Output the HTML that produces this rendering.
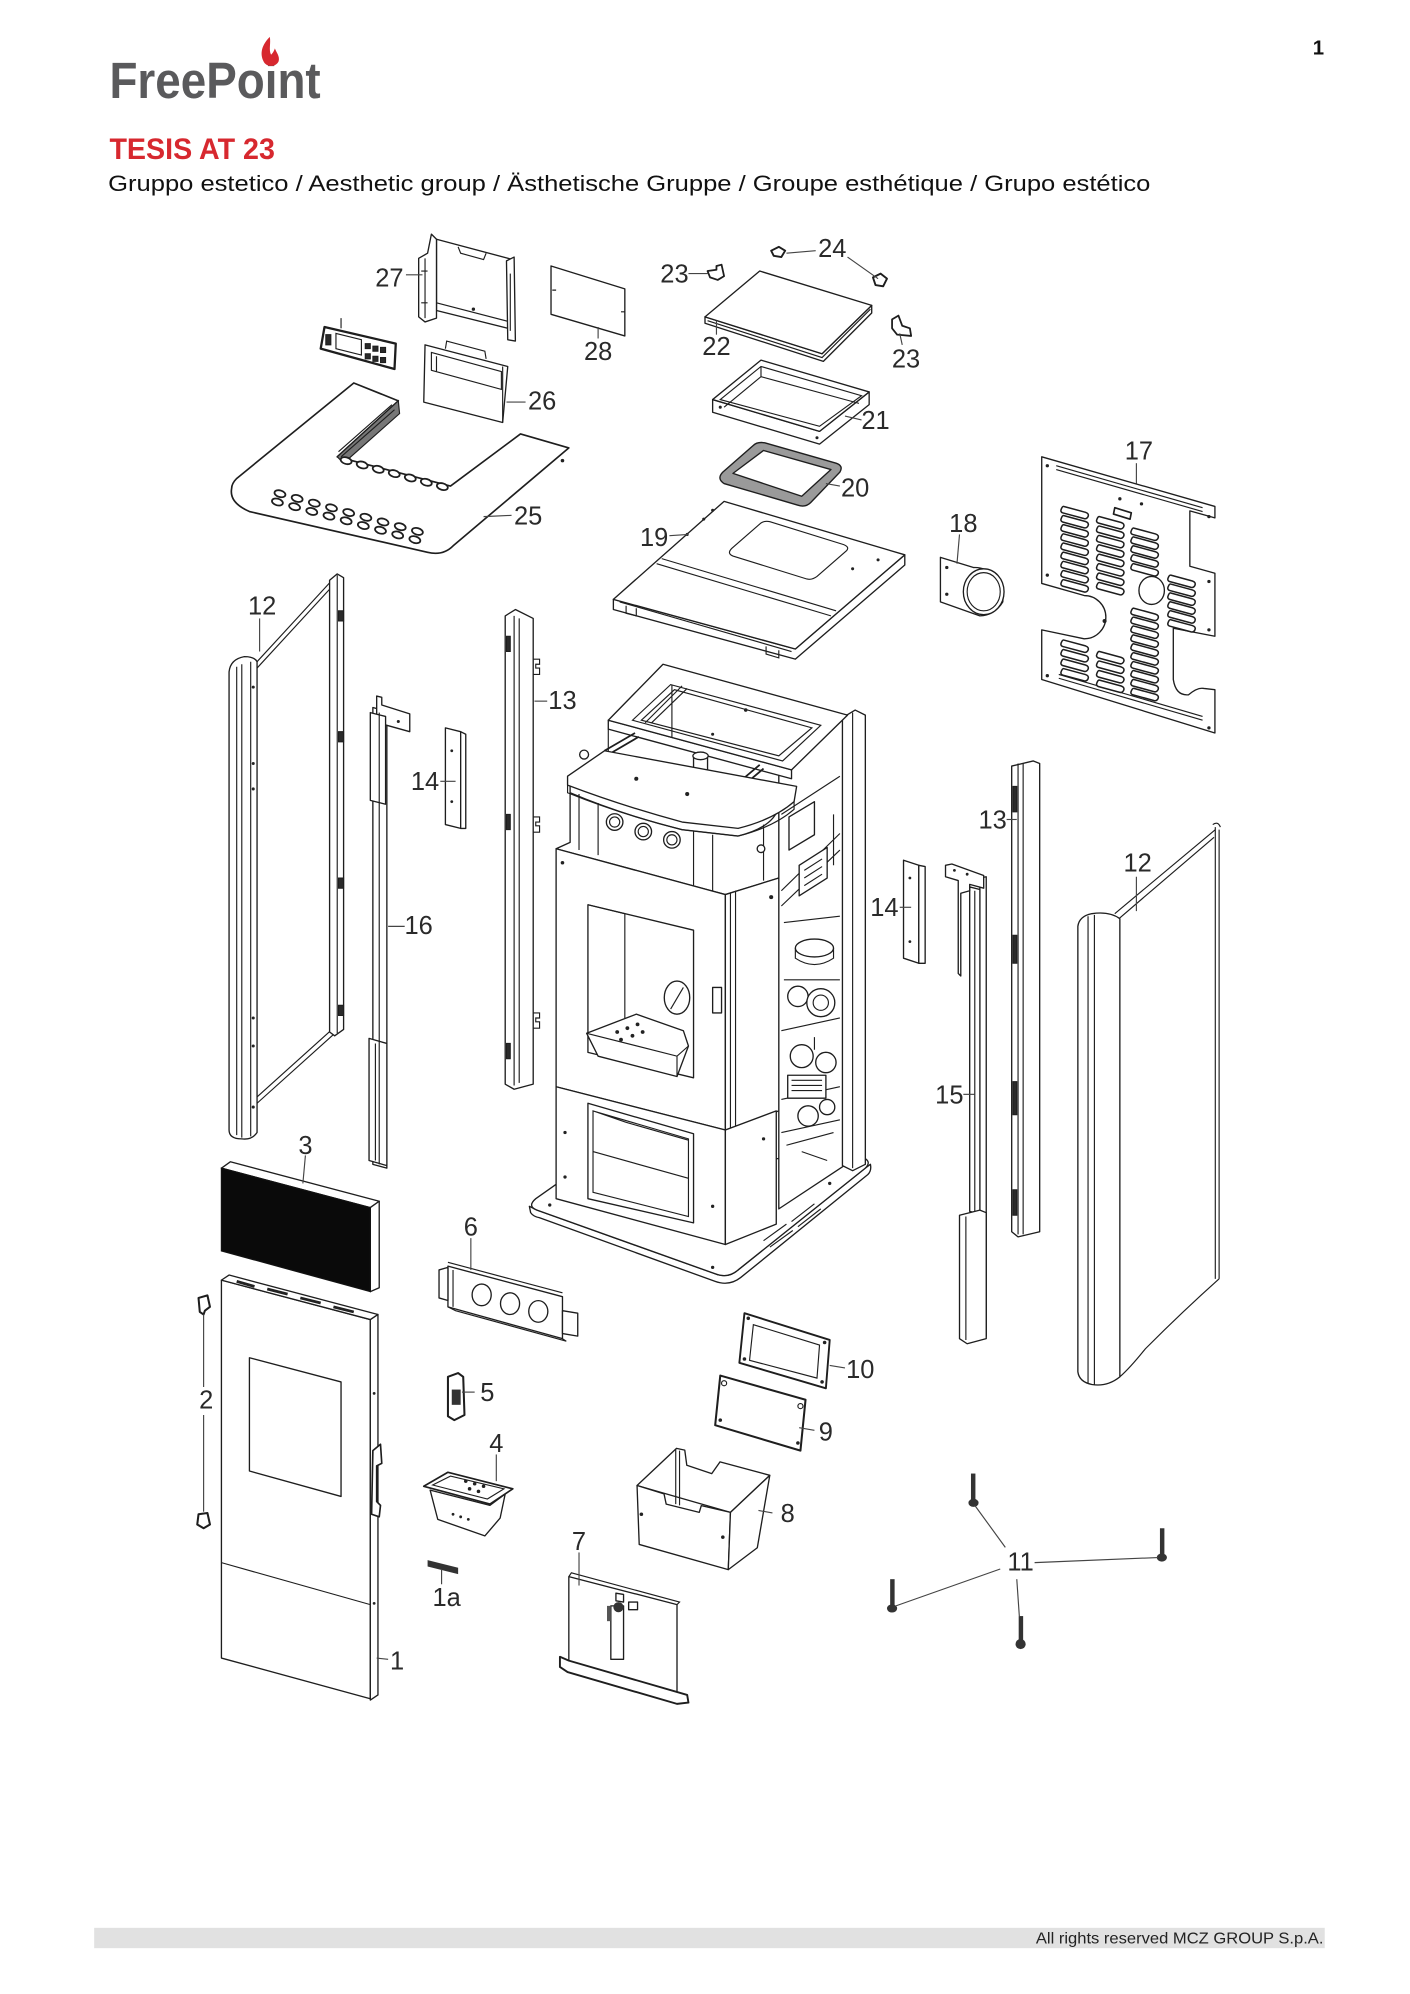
<!DOCTYPE html>
<html><head><meta charset="utf-8"><style>
html,body{margin:0;padding:0;background:#fff;}
svg{display:block;}
.p{fill:#fff;stroke:#1e1e1e;stroke-width:1.05;stroke-linejoin:round}
.l{fill:none;stroke:#1e1e1e;stroke-width:0.9}
.t{fill:none;stroke:#444;stroke-width:0.9}
.d{fill:#2a2a2a;stroke:#1e1e1e;stroke-width:0.8}
.n{font-family:"Liberation Sans",sans-serif;font-size:20px;fill:#2a2a2a;text-anchor:middle}
</style></head><body>
<svg width="1410" height="1994" viewBox="0 0 1108 1567" preserveAspectRatio="none" xmlns="http://www.w3.org/2000/svg" xmlns:xlink="http://www.w3.org/1999/xlink">
<defs>
<ellipse id="ov" cx="0" cy="0" rx="4.4" ry="2.6" transform="rotate(16)" style="fill:#fff;stroke:#1e1e1e;stroke-width:1.4"/>
<path id="sl" d="M0,0 L17,4.6 Q20,5.6 19,8 Q18,10 16,9.6 L-1,5 Q-3,4.2 -2,2 Q-1,-0.4 0,0 Z" style="fill:#fff;stroke:#1e1e1e;stroke-width:1.2"/>
</defs>

<!-- HEADER -->
<text x="86" y="77" font-family="Liberation Sans, sans-serif" font-weight="bold" font-size="40" fill="#5a5a5c" textLength="166" lengthAdjust="spacingAndGlyphs">FreePoint</text>
<path d="M212,29 C204,37 205,44 207,48 C209,53 217,53 219,48 C220,44 217,41 216,38 C215,41 214,42 213,43 C211,39 213,34 212,29 Z" fill="#d7282f"/>
<text x="1036" y="43" font-family="Liberation Sans, sans-serif" font-weight="bold" font-size="16" fill="#111" text-anchor="middle">1</text>
<text x="86" y="125" font-family="Liberation Sans, sans-serif" font-weight="bold" font-size="23.5" fill="#d7282f" textLength="130" lengthAdjust="spacingAndGlyphs">TESIS AT 23</text>
<text x="85" y="150" font-family="Liberation Sans, sans-serif" font-size="17.5" fill="#111" textLength="819" lengthAdjust="spacingAndGlyphs">Gruppo estetico / Aesthetic group / Ästhetische Gruppe / Groupe esthétique / Grupo estético</text>

<!-- FOOTER -->
<rect x="74" y="1515" width="967" height="16" fill="#e1e1e1"/>
<text x="1040" y="1527.5" font-family="Liberation Sans, sans-serif" font-size="12.5" fill="#222" text-anchor="end" textLength="226" lengthAdjust="spacingAndGlyphs">All rights reserved MCZ GROUP S.p.A.</text>

<!-- PART 27 -->
<path class="p" d="M343,188 L403,204 L403,259 L343,244 Z"/>
<path class="l" d="M343,238 L401,253 M360,194 L362,199 L380,204 L382,199"/>
<circle cx="372" cy="243" r="1.3" fill="#222"/>
<path class="p" d="M329,203 L336,199 L339,184 L343,188 L343,250 L334,253 L329,249 Z"/>
<path class="l" d="M334,203 L334,250 M331,213 L336,213 M331,238 L336,238"/>
<path class="p" d="M398,205 L404,202 L405,268 L399,267 Z"/>
<path class="l" d="M401,215 L401,260"/>

<!-- PART 28 -->
<path class="p" d="M433,209 L491,227 L491,264 L433,247 Z"/>
<path class="l" d="M434,228 L437,228 M488,245 L491,245"/>

<!-- CONTROL PANEL -->
<path class="p" d="M255,257 L311,270 L310,290 L252,274 Z" style="stroke-width:1.8"/>
<path class="l" d="M264,262 L284,267 L284,279 L264,274 Z"/>
<path class="d" d="M287,270 h4 v4 h-4 z M293,272 h4 v4 h-4 z M299,273 h4 v4 h-4 z M287,278 h4 v4 h-4 z M293,280 h4 v4 h-4 z M299,281 h4 v4 h-4 z M256,263 h4 v8 h-4 z"/>
<path class="l" d="M268,250 L268,258"/>

<!-- PART 26 -->
<path class="p" d="M334,271 L399,288 L395,332 L333,316 Z"/>
<path class="l" d="M350,274 L351,268 L381,276 L382,282 M339,277 L394,292 L394,306 L339,291 Z M343,280 L343,292 M395,288 L395,332"/>

<!-- PART 25 -->
<path class="p" d="M182,384 Q180,395 196,402 L336,434 Q348,437 356,429 L447,352 L409,341 L354,382 L265,359 L313,315 L278,301 L186,376 Q182,380 182,384 Z" style="stroke-width:1.3"/>
<path d="M313,315 L314,325 L270,364 L265,359 Z" fill="#777" stroke="#1e1e1e" stroke-width="0.9"/>
<path class="l" d="M308,318 L266,355 M310,322 L268,359"/>
<circle cx="442" cy="362" r="1.4" fill="#222"/>
<use xlink:href="#ov" x="272" y="362"/><use xlink:href="#ov" x="284.6" y="365.4"/><use xlink:href="#ov" x="297.2" y="368.8"/><use xlink:href="#ov" x="309.8" y="372.2"/><use xlink:href="#ov" x="322.4" y="375.6"/><use xlink:href="#ov" x="335" y="379"/><use xlink:href="#ov" x="347.6" y="382.4"/>
<use xlink:href="#ov" x="220" y="388"/><use xlink:href="#ov" x="233.5" y="391.7"/><use xlink:href="#ov" x="247" y="395.4"/><use xlink:href="#ov" x="260.5" y="399.1"/><use xlink:href="#ov" x="274" y="402.8"/><use xlink:href="#ov" x="287.5" y="406.5"/><use xlink:href="#ov" x="301" y="410.2"/><use xlink:href="#ov" x="314.5" y="413.9"/><use xlink:href="#ov" x="328" y="417.6"/>
<use xlink:href="#ov" x="218" y="394.5"/><use xlink:href="#ov" x="231.5" y="398.2"/><use xlink:href="#ov" x="245" y="401.9"/><use xlink:href="#ov" x="258.5" y="405.6"/><use xlink:href="#ov" x="272" y="409.3"/><use xlink:href="#ov" x="285.5" y="413"/><use xlink:href="#ov" x="299" y="416.7"/><use xlink:href="#ov" x="312.5" y="420.4"/><use xlink:href="#ov" x="326" y="424.1"/>

<!-- PART 22, 23, 24 -->
<path class="p" d="M554,249 L646,278 L685,240 L685,246 L647,284 L554,254 Z"/>
<path class="p" d="M597,213 L685,240 L646,278 L554,249 Z"/>
<path class="l" d="M556,252 L646,281 L684,243"/>
<path class="p" style="stroke-width:1.4" d="M556,213 L563,212 L563,209 L567,208 L569,217 L564,220 L558,218 Z"/>
<path class="p" style="stroke-width:1.5" d="M606,197 L612,194 L617,197 L614,202 L608,201 Z"/>
<path class="p" style="stroke-width:1.5" d="M686,218 L692,215 L697,219 L694,225 L688,224 Z"/>
<path class="p" style="stroke-width:1.4" d="M701,251 L706,248 L709,256 L715,258 L716,264 L705,263 L701,258 Z"/>

<!-- PART 21 -->
<path class="p" d="M560,314 L644,339 L683,308 L683,318 L644,349 L560,324 Z"/>
<path class="p" d="M560,314 L598,283 L683,308 L644,339 Z"/>
<path class="l" d="M566,314 L598,288 L677,311 L644,335 Z M598,288 L598,296 L569,320 M598,296 L675,317"/>
<circle cx="566" cy="320" r="1.2" fill="#222"/><circle cx="642" cy="344" r="1.2" fill="#222"/>

<!-- PART 20 -->
<path d="M568,371 Q563,376 569,380 L627,397 Q633,399 637,395 L660,371 Q663,366 657,364 L601,348 Q595,347 592,350 Z" fill="#9a9a9a" stroke="#1e1e1e" stroke-width="1.1"/>
<path class="p" d="M576,372 L600,354 L653,369 L630,390 Z"/>

<!-- PART 19 -->
<path class="p" d="M482,471 L625,510 L711,436 L711,444 L625,518 L482,479 Z"/>
<path class="p" d="M569,394 L711,436 L625,510 L482,471 Z"/>
<path class="l" d="M520,439 L657,480 M516,443 L653,484 M487,473 L622,512"/>
<path class="l" d="M598,411 Q601,409 605,410 L663,428 Q668,430 665,433 L642,453 Q638,456 634,455 L576,437 Q571,435 575,431 Z"/>
<path class="l" d="M492,476 L492,482 L500,484 L500,478 M602,508 L602,514 L612,517 L612,511"/>
<circle cx="553" cy="408" r="1.2" fill="#222"/><circle cx="560" cy="401" r="1.2" fill="#222"/><circle cx="540" cy="420" r="1.2" fill="#222"/><circle cx="670" cy="447" r="1.2" fill="#222"/><circle cx="690" cy="440" r="1.2" fill="#222"/>

<!-- PART 18 -->
<path class="p" d="M739,438 L765,446 A22,24 0 0 1 788,473 A22,24 0 0 1 770,484 L739,473 Z"/>
<ellipse class="p" cx="773" cy="465" rx="16" ry="18"/>
<ellipse class="l" cx="773" cy="465" rx="13" ry="15"/>
<circle cx="744" cy="446" r="1.3" fill="#222"/><circle cx="744" cy="467" r="1.3" fill="#222"/>

<!-- PART 17 -->
<path class="p" d="M818.6,359 L954.7,398 L954.7,407 L935,401.5 L935,445 L954.7,450.5 L954.7,500 L922,493.7 L922,534 Q924,547 934,546 Q941,540 946,541 L954.7,542 L954.7,576 L818.6,534 L818.6,495 L852,502 A17,17 0 0 0 852,468 L818.6,458.5 Z"/>
<path class="l" d="M830,366 L945,399 M830,369 L945,402 M832,530 L945,563 M832,533 L945,566"/>
<path d="M876,399 L889,403 L888,408 L875,404 Z" class="p" style="stroke-width:1.3"/>
<circle cx="823" cy="366" r="1.3" fill="#222"/><circle cx="950" cy="406" r="1.3" fill="#222"/><circle cx="950" cy="572" r="1.3" fill="#222"/><circle cx="823" cy="531" r="1.3" fill="#222"/><circle cx="823" cy="452" r="1.3" fill="#222"/><circle cx="950" cy="457" r="1.3" fill="#222"/><circle cx="950" cy="495" r="1.3" fill="#222"/><circle cx="880" cy="392" r="1.3" fill="#222"/><circle cx="897" cy="396" r="1.3" fill="#222"/><circle cx="868" cy="488" r="1.6" fill="#222"/>
<ellipse class="p" cx="905" cy="464" rx="10" ry="11"/>
<use xlink:href="#sl" x="836" y="398"/><use xlink:href="#sl" x="836" y="405.2"/><use xlink:href="#sl" x="836" y="412.4"/><use xlink:href="#sl" x="836" y="419.6"/><use xlink:href="#sl" x="836" y="426.8"/><use xlink:href="#sl" x="836" y="434"/><use xlink:href="#sl" x="836" y="441.2"/><use xlink:href="#sl" x="836" y="448.4"/><use xlink:href="#sl" x="836" y="455.6"/>
<use xlink:href="#sl" x="864" y="406"/><use xlink:href="#sl" x="864" y="413.4"/><use xlink:href="#sl" x="864" y="420.8"/><use xlink:href="#sl" x="864" y="428.2"/><use xlink:href="#sl" x="864" y="435.6"/><use xlink:href="#sl" x="864" y="443"/><use xlink:href="#sl" x="864" y="450.4"/><use xlink:href="#sl" x="864" y="457.8"/>
<use xlink:href="#sl" x="891" y="415"/><use xlink:href="#sl" x="891" y="422"/><use xlink:href="#sl" x="891" y="429"/><use xlink:href="#sl" x="891" y="436"/><use xlink:href="#sl" x="891" y="443"/>
<use xlink:href="#sl" x="920" y="452"/><use xlink:href="#sl" x="920" y="459"/><use xlink:href="#sl" x="920" y="466"/><use xlink:href="#sl" x="920" y="473"/><use xlink:href="#sl" x="920" y="480"/><use xlink:href="#sl" x="920" y="487"/>
<use xlink:href="#sl" x="891" y="478"/><use xlink:href="#sl" x="891" y="485"/><use xlink:href="#sl" x="891" y="492"/><use xlink:href="#sl" x="891" y="499"/><use xlink:href="#sl" x="891" y="506"/><use xlink:href="#sl" x="891" y="513"/><use xlink:href="#sl" x="891" y="520"/><use xlink:href="#sl" x="891" y="527"/><use xlink:href="#sl" x="891" y="534"/><use xlink:href="#sl" x="891" y="541"/>
<use xlink:href="#sl" x="836" y="503"/><use xlink:href="#sl" x="836" y="510.5"/><use xlink:href="#sl" x="836" y="518"/><use xlink:href="#sl" x="836" y="525.5"/>
<use xlink:href="#sl" x="864" y="512"/><use xlink:href="#sl" x="864" y="519.5"/><use xlink:href="#sl" x="864" y="527"/><use xlink:href="#sl" x="864" y="534.5"/>

<!-- PART 12 LEFT -->
<path class="l" d="M202,520 L260,457 M202,525 L260,462 M202,862 L262,808 M202,867 L262,813"/>
<path class="p" d="M259,456 L265,451 L270,454 L270,809 L263,814 L259,811 Z"/>
<path class="l" d="M265,452 L265,812"/>
<path class="d" d="M266,480 h4 v8 h-4 z M266,575 h4 v8 h-4 z M266,690 h4 v8 h-4 z M266,790 h4 v8 h-4 z"/>
<path class="p" d="M180,528 Q181,518 192,516 Q200,516 202,520 L202,890 Q198,896 190,895 Q180,895 180,888 Z"/>
<path class="l" d="M186,524 L186,892 M190,522 L190,894 M197,520 L197,893"/>
<circle cx="199" cy="540" r="1.2" fill="#222"/><circle cx="199" cy="600" r="1.2" fill="#222"/><circle cx="199" cy="620" r="1.2" fill="#222"/><circle cx="199" cy="800" r="1.2" fill="#222"/><circle cx="199" cy="822" r="1.2" fill="#222"/><circle cx="199" cy="870" r="1.2" fill="#222"/>

<!-- PART 16 -->
<path class="p" d="M293,556 L304,559 L304,918 L293,915 Z"/>
<path class="p" d="M296,547 L300,548 L300,554 L322,561 L322,575 L304,570 L296,568 Z"/>
<path class="p" d="M291,560 L303,563 L303,632 L291,629 Z"/>
<path class="p" d="M290,816 L304,820 L304,916 L290,912 Z"/>
<path class="l" d="M298,560 L298,915 M295,820 L295,912"/>
<circle cx="313" cy="567" r="1.2" fill="#222"/>

<!-- PART 14 LEFT -->
<path class="p" d="M350,572 L362,575 L362,651 L350,648 Z"/>
<path class="p" d="M362,575 L366,577 L366,651 L362,651 Z"/>
<circle cx="355" cy="590" r="1.1" fill="#222"/><circle cx="355" cy="630" r="1.1" fill="#222"/>

<!-- PART 13 LEFT -->
<path class="p" d="M397,484 L405,479 L419,486 L419,852 L404,856 L397,852 Z"/>
<path class="l" d="M404,484 L404,853 M408,486 L408,851"/>
<path class="l" d="M419,518 L424,518 L424,522 L421,522 L421,525 L424,525 L424,530 L419,530 M419,642 L424,642 L424,646 L421,646 L421,649 L424,649 L424,654 L419,654 M419,796 L424,796 L424,800 L421,800 L421,803 L424,803 L424,808 L419,808"/>
<path class="d" d="M398,500 h3 v12 h-3 z M398,640 h3 v12 h-3 z M398,820 h3 v12 h-3 z"/>

<!-- MAIN BODY: base plate -->
<path class="p" d="M416,948 L417,953 Q419,956 424,957 L562,1007 Q573,1011 582,1004 L682,923 Q685,920 684,915 L680,918 L580,998 Q572,1005 562,1001 L422,951 Z"/>
<path class="p" d="M438,930 L421,942 Q414,948 422,951 L562,1001 Q572,1005 580,998 L680,918 Q685,913 679,910 L660,905 Z"/>
<circle cx="432" cy="947" r="1.3" fill="#222"/><circle cx="560" cy="996" r="1.3" fill="#222"/><circle cx="652" cy="930" r="1.3" fill="#222"/>
<path class="l" d="M600,975 L618,962 M622,960 L640,946 M605,980 L623,967 M627,964 L645,950"/>

<!-- rear box right face + post -->
<path class="p" d="M612,606 L665,562 L665,915 L612,950 Z"/>
<path class="p" d="M662,564 L672,558 L680,562 L680,915 L670,920 L662,916 Z"/>
<path class="l" d="M670,560 L670,918"/>
<!-- top frame -->
<path class="p" d="M478,566 L622,605 L622,612 L478,573 Z"/>
<path class="p" d="M478,566 L521,522 L666,562 L622,605 Z"/>
<path class="l" d="M497,566 L527,538 L645,570 L615,598 Z M504,566 L530,542 L638,572 L612,594 Z"/>
<path class="l" d="M507,568 L536,539 M512,568 L540,541 M528,538 L528,580 M478,573 L478,615"/>
<circle cx="586" cy="558" r="1.4" fill="#222"/><circle cx="560" cy="577" r="1.2" fill="#222"/>
<!-- internals -->
<path class="l" d="M614,700 L660,655 M614,712 L660,668 M614,640 L660,610"/>
<path class="p" d="M620,642 L640,630 L640,656 L620,668 Z"/>
<path class="p" d="M628,680 L650,666 L650,690 L628,704 Z"/>
<path class="l" d="M632,684 L646,675 M632,690 L646,681 M632,696 L646,687"/>
<path class="l" d="M625,745 L625,753 Q640,763 655,753 L655,745"/>
<ellipse class="p" cx="640" cy="745" rx="15" ry="7"/>
<circle class="p" cx="627" cy="783" r="8"/>
<circle class="p" cx="645" cy="788" r="11"/><circle class="l" cx="645" cy="788" r="6"/>
<path class="l" d="M614,810 L660,800 M614,864 L660,854"/>
<circle class="p" cx="630" cy="830" r="9"/><circle class="p" cx="649" cy="835" r="8"/>
<rect class="p" x="619" y="845" width="30" height="18"/>
<path class="l" d="M622,849 L646,849 M622,853 L646,853 M622,857 L646,857"/>
<circle class="p" cx="635" cy="877" r="8"/><circle class="p" cx="650" cy="870" r="6"/>
<path class="l" d="M614,890 L660,880 M618,900 L655,890 M630,905 L650,912 M640,815 L640,825"/>
<path class="l" d="M655,640 L655,680 M616,770 L660,770 M616,725 L660,720"/>
<!-- rods and sensor on lid -->
<path class="l" d="M475,590 L499,576 M478,593 L502,579 M578,617 L597,601 M581,620 L600,604" style="stroke-width:1.4"/>
<circle class="p" cx="459" cy="593" r="3.5"/>
<rect class="p" x="545" y="594" width="11" height="12"/>
<ellipse class="p" cx="550.5" cy="594" rx="6" ry="3"/>
<circle class="p" cx="596" cy="628" r="3.5"/>

<!-- Front section: lid -->
<path class="p" d="M448,617 L448,662 L437,667 L570,703 L612,690 L612,634 Q608,650 580,657 L536,652 Q488,640 448,623 Z"/>
<path class="p" d="M446,610 L475,590 L626,618 L624,630 Q608,644 580,651 L536,646 Q488,633 446,617 Z"/>
<path class="l" d="M446,617 L446,623 Q488,640 536,652 L580,657 Q608,650 624,636 L624,630"/>
<path class="l" d="M455,624 L455,668 M470,631 L470,672 M545,653 L545,698 M560,656 L560,702 M600,648 L600,692"/>
<circle class="p" cx="483" cy="646" r="6.5"/><circle class="l" cx="483" cy="646" r="4"/>
<circle class="p" cx="505.5" cy="653.5" r="6.5"/><circle class="l" cx="505.5" cy="653.5" r="4"/>
<circle class="p" cx="528" cy="660" r="6.5"/><circle class="l" cx="528" cy="660" r="4"/>
<circle class="p" cx="598" cy="667" r="3"/>
<circle cx="500" cy="612" r="1.6" fill="#222"/><circle cx="540" cy="624" r="1.6" fill="#222"/>
<!-- front panel upper -->
<path class="p" d="M437,667 L570,703 L570,888 L437,854 Z"/>
<path class="p" d="M570,703 L612,690 L612,873 L570,888 Z"/>
<path class="l" d="M574,702 L574,887 M578,700 L578,886"/>
<path class="p" d="M462,711 L545,731 L545,847 L462,827 Z"/>
<path class="l" d="M491,718 L491,800 M462,711 L491,718"/>
<ellipse class="p" cx="532" cy="784" rx="10" ry="13"/>
<path class="l" d="M527,793 L537,776"/>
<rect class="p" x="560" y="776" width="7" height="20"/>
<path class="p" d="M461,812 L500,797 L537,810 L541,822 L532,846 L470,830 Z"/>
<path class="l" d="M461,812 L532,830 L541,822 M532,830 L532,846"/>
<circle cx="485" cy="811" r="1.5" fill="#222"/><circle cx="493" cy="808" r="1.5" fill="#222"/><circle cx="501" cy="805" r="1.5" fill="#222"/><circle cx="488" cy="817" r="1.5" fill="#222"/><circle cx="497" cy="814" r="1.5" fill="#222"/><circle cx="505" cy="811" r="1.5" fill="#222"/>
<circle cx="442" cy="678" r="1.4" fill="#222"/><circle cx="606" cy="705" r="1.6" fill="#222"/>
<!-- lower section -->
<path class="p" d="M437,854 L570,888 L570,978 L437,942 Z"/>
<path class="p" d="M570,888 L610,873 L610,962 L570,978 Z"/>
<path class="p" d="M462,867 L545,891 L545,961 L462,942 Z"/>
<path class="l" d="M466,873 L541,895 L541,956 L466,937 Z M466,905 L541,926 M492,882 L541,896 M466,873 L492,882"/>
<circle cx="444" cy="890" r="1.3" fill="#222"/><circle cx="444" cy="925" r="1.3" fill="#222"/><circle cx="560" cy="948" r="1.3" fill="#222"/><circle cx="600" cy="895" r="1.3" fill="#222"/>

<!-- PART 14 RIGHT -->
<path class="p" d="M710,676 L722,680 L722,757 L710,753 Z"/>
<path class="p" d="M722,680 L727,681 L727,757 L722,757 Z"/>
<circle cx="715" cy="690" r="1.1" fill="#222"/><circle cx="715" cy="740" r="1.1" fill="#222"/>

<!-- PART 15 -->
<path class="p" d="M770,690 L775,689 L775,1050 L770,1052 Z"/>
<path class="p" d="M762,697 L770,699 L770,954 L762,952 Z"/>
<path class="p" d="M743,680 L748,679 L773,688 L773,698 L762,695 L762,700 L755,702 L755,767 L753,765 L753,692 L743,689 Z"/>
<path class="p" d="M754,955 L770,951 L775,953 L775,1052 L760,1056 L754,1052 Z"/>
<path class="l" d="M759,956 L759,1053 M766,700 L766,952"/>
<circle cx="750" cy="684" r="1.1" fill="#222"/><circle cx="760" cy="687" r="1.1" fill="#222"/>

<!-- PART 13 RIGHT -->
<path class="p" d="M795,602 L812,598 L817,600 L817,968 L800,972 L795,968 Z"/>
<path class="l" d="M800,600 L800,970 M804,600 L804,970"/>
<path class="d" d="M796,618 h3 v20 h-3 z M796,735 h3 v22 h-3 z M796,850 h3 v26 h-3 z M796,935 h3 v20 h-3 z"/>

<!-- PART 12 RIGHT -->
<path class="l" d="M876,718 L955,652 M878,723 L954,658 M955,650 L955,1005 M958,652 L958,1005 M958,1005 Q930,1030 900,1060 Q888,1075 880,1082"/>
<path class="l" d="M953,648 Q957,645 959,650" />
<path class="p" d="M847,728 Q848,720 858,718 Q872,716 880,722 L880,1082 Q870,1090 858,1088 Q848,1086 847,1078 Z"/>
<path class="l" d="M855,720 L855,1087 M860,719 L860,1088"/>

<!-- PART 3 -->
<path class="p" d="M174,918 L181,913 L298,944 L291,949 Z"/>
<path class="p" d="M291,949 L298,944 L298,1012 L291,1015 Z"/>
<path d="M174,918 L291,949 L291,1015 L174,983 Z" fill="#0a0a0a" stroke="#111" stroke-width="1"/>

<!-- PART 1 DOOR -->
<path class="p" d="M174,1006 L291,1037 L291,1335 L174,1303 Z"/>
<path class="p" d="M291,1037 L297,1033 L297,1332 L291,1336 Z"/>
<path class="p" d="M174,1006 L180,1002 L297,1033 L291,1037 Z"/>
<path d="M186,1007 L200,1011 M210,1013 L226,1017 M236,1020 L252,1024 M262,1027 L278,1031" stroke="#222" stroke-width="2.2"/>
<path class="l" d="M174,1228 L291,1261"/>
<path class="p" d="M196,1067 L268,1086 L268,1176 L196,1156 Z"/>
<path class="p" d="M293,1140 L299,1135 L300,1150 L296,1152 L296,1180 L299,1183 L298,1192 L292,1190 Z" style="stroke-width:1.3"/>
<circle cx="294" cy="1095" r="1.1" fill="#222"/><circle cx="294" cy="1260" r="1.1" fill="#222"/>

<!-- PART 2 -->
<path class="p" style="stroke-width:1.6" d="M156,1020 L163,1018 L165,1027 L161,1030 L160,1033 L157,1031 Z"/>
<path class="t" d="M160,1033 L160,1090 M160,1112 L160,1188"/>
<path class="p" style="stroke-width:1.6" d="M156,1190 L163,1189 L165,1198 L160,1201 L155,1198 Z"/>

<!-- PART 6 -->
<path class="l" d="M352,992 L442,1016"/>
<path class="p" d="M352,995 L442,1019 L442,1052 L352,1027 Z"/>
<path class="l" d="M352,1027 L358,1030 L445,1054 L442,1052 M356,998 L356,1027"/>
<path class="p" d="M345,998 L352,996 L352,1022 L345,1020 Z"/>
<path class="p" d="M442,1030 L454,1032 L454,1050 L442,1048 Z"/>
<ellipse class="p" cx="378.5" cy="1017.6" rx="7.5" ry="8.5"/>
<ellipse class="p" cx="400.8" cy="1024.5" rx="7.5" ry="8.5"/>
<ellipse class="p" cx="423" cy="1030.6" rx="7.5" ry="8.5"/>

<!-- PART 5 -->
<path class="p" d="M352,1082 L360,1079 L364,1082 L365,1112 L357,1116 L352,1113 Z" style="stroke-width:1.6"/>
<rect x="355" y="1092" width="7" height="12" fill="#333"/>

<!-- PART 4 -->
<path class="p" d="M338,1171 L385,1183 L397,1174 L393,1193 L381,1207 L344,1194 Z"/>
<path class="p" d="M333,1168 L352,1157 L403,1170 L385,1182 Z" style="stroke-width:1.3"/>
<path class="l" d="M340,1167 L354,1160 L396,1170 L383,1178 Z"/>
<circle cx="366" cy="1164" r="1.4" fill="#222"/><circle cx="373" cy="1166" r="1.4" fill="#222"/><circle cx="380" cy="1168" r="1.4" fill="#222"/><circle cx="369" cy="1170" r="1.4" fill="#222"/><circle cx="376" cy="1172" r="1.4" fill="#222"/><circle cx="356" cy="1190" r="1.1" fill="#222"/><circle cx="362" cy="1192" r="1.1" fill="#222"/><circle cx="368" cy="1194" r="1.1" fill="#222"/>

<!-- PART 1a -->
<path d="M336,1226 L360,1232 L360,1237 L336,1231 Z" fill="#333"/>

<!-- PART 10 -->
<path class="p" d="M585,1032 L652,1053 L649,1091 L581,1071 Z" style="stroke-width:1.5"/>
<path class="l" d="M592,1041 L644,1057 L642,1083 L589,1069 Z"/>
<circle cx="588" cy="1036" r="1.4" fill="#222"/><circle cx="648" cy="1055" r="1.4" fill="#222"/><circle cx="646" cy="1086" r="1.4" fill="#222"/><circle cx="585" cy="1068" r="1.4" fill="#222"/>

<!-- PART 9 -->
<path class="p" d="M566,1081 L633,1100 L629,1140 L562,1120 Z" style="stroke-width:1.6"/>
<circle class="l" cx="569" cy="1087" r="2"/><circle class="l" cx="629" cy="1105" r="2"/><circle cx="566" cy="1116" r="1.4" fill="#222"/><circle cx="627" cy="1134" r="1.4" fill="#222"/>

<!-- PART 8 -->
<path class="p" d="M500.6,1167.4 L531.6,1138.2 L538.1,1139.6 L539.7,1151.5 L559.3,1158.1 L565.8,1148.8 L604.9,1159.4 L574,1188.5 Z"/>
<path class="l" d="M531,1139 L531,1182 M534,1140 L534,1183"/>
<path class="p" d="M500.6,1167.4 L521.8,1174 L523.5,1182 L549.5,1188.5 L551.1,1183.2 L574,1188.5 L572.3,1233.5 L502.3,1213.7 Z"/>
<path class="p" d="M574,1188.5 L604.9,1159.4 L595.1,1216.3 L572.3,1233.5 Z"/>
<circle cx="504" cy="1190" r="1.4" fill="#222"/><circle cx="568" cy="1208" r="1.4" fill="#222"/>

<!-- PART 7 -->
<path class="p" d="M447,1239 L532,1261 L532,1334 L447,1312 Z"/>
<path class="l" d="M447,1239 L449,1236 L534,1259 L532,1261"/>
<path class="p" d="M440,1302 L447,1305 L540,1332 L541,1338 L532,1339 L446,1314 L440,1310 Z" style="stroke-width:1.5"/>
<path class="p" d="M484,1252 L490,1253 L490,1259 L484,1258 Z"/>
<rect class="p" x="480" y="1262" width="10" height="42"/>
<circle cx="486" cy="1263" r="4" fill="#333"/>
<rect class="p" x="494" y="1259" width="7" height="6"/>
<rect x="477" y="1262" width="3" height="12" fill="#555"/>

<!-- PART 11 screws -->
<rect x="763" y="1158" width="3.5" height="21" fill="#333"/><ellipse cx="765" cy="1181" rx="4" ry="3.2" fill="#333"/>
<rect x="911.5" y="1201" width="3.5" height="21" fill="#333"/><ellipse cx="913" cy="1224" rx="4" ry="3.2" fill="#333"/>
<rect x="699.5" y="1241" width="3.5" height="21" fill="#333"/><ellipse cx="701" cy="1264" rx="4" ry="3.2" fill="#333"/>
<rect x="800.5" y="1270" width="3.5" height="19" fill="#333"/><ellipse cx="802" cy="1292" rx="4" ry="4" fill="#333"/>

<!-- LEADER LINES -->
<g class="t">
<path d="M319,216 L332,216"/>
<path d="M470,257 L470,266"/>
<path d="M541,215 L556,215"/>
<path d="M641,197 L618,199 M666,202 L690,219"/>
<path d="M563,252 L563,263"/>
<path d="M707,262 L709,271"/>
<path d="M398,316 L413,316"/>
<path d="M664,327 L677,330"/>
<path d="M649,380 L660,382"/>
<path d="M380,406 L402,405"/>
<path d="M893,364 L893,380"/>
<path d="M754,420 L752,443"/>
<path d="M526,421 L541,420"/>
<path d="M204,486 L204,512"/>
<path d="M420,551 L430,551"/>
<path d="M346,614 L358,614"/>
<path d="M305,728 L318,728"/>
<path d="M791,644 L799,644"/>
<path d="M893,689 L893,716"/>
<path d="M707,713 L716,713"/>
<path d="M757,860 L766,860"/>
<path d="M240,908 L238,930"/>
<path d="M370,973 L370,998"/>
<path d="M363,1094 L373,1094"/>
<path d="M390,1143 L390,1164"/>
<path d="M652,1073 L664,1075"/>
<path d="M628,1122 L640,1124"/>
<path d="M596,1187 L607,1189"/>
<path d="M455,1220 L455,1246"/>
<path d="M347,1233 L347,1245"/>
<path d="M296,1303 L305,1304"/>
<path d="M790,1216 L766,1183 M813,1228 L910,1224 M786,1233 L704,1262 M799,1241 L801,1270"/>
</g>

<!-- LABELS -->
<g class="n">
<text x="306" y="225">27</text>
<text x="470" y="283">28</text>
<text x="530" y="222">23</text>
<text x="654" y="202">24</text>
<text x="563" y="279">22</text>
<text x="712" y="289">23</text>
<text x="426" y="322">26</text>
<text x="688" y="337">21</text>
<text x="672" y="390">20</text>
<text x="415" y="412">25</text>
<text x="895" y="361">17</text>
<text x="757" y="418">18</text>
<text x="514" y="429">19</text>
<text x="206" y="483">12</text>
<text x="442" y="557">13</text>
<text x="334" y="621">14</text>
<text x="329" y="734">16</text>
<text x="780" y="651">13</text>
<text x="894" y="685">12</text>
<text x="695" y="720">14</text>
<text x="746" y="867">15</text>
<text x="240" y="907">3</text>
<text x="370" y="971">6</text>
<text x="162" y="1107">2</text>
<text x="383" y="1101">5</text>
<text x="390" y="1141">4</text>
<text x="676" y="1083">10</text>
<text x="649" y="1132">9</text>
<text x="619" y="1196">8</text>
<text x="455" y="1218">7</text>
<text x="802" y="1234">11</text>
<text x="351" y="1262">1a</text>
<text x="312" y="1312">1</text>
</g>
</svg>
</body></html>
